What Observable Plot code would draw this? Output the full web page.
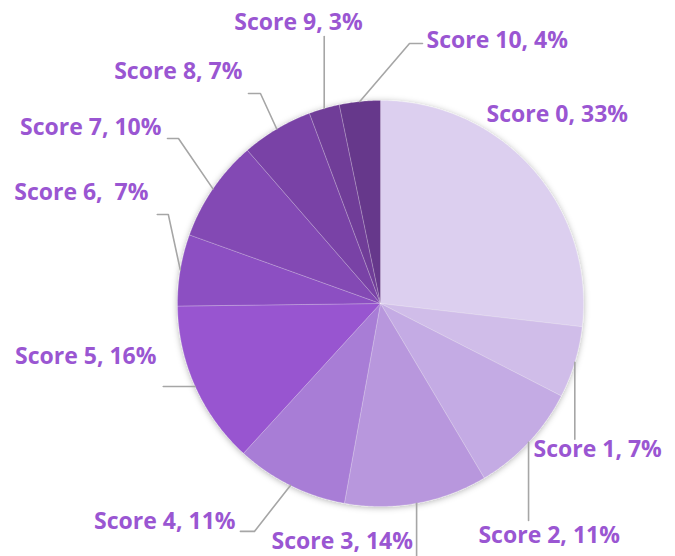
<!DOCTYPE html>
<html><head><meta charset="utf-8">
<script src="https://cdn.jsdelivr.net/npm/d3@7"></script>
<script src="https://cdn.jsdelivr.net/npm/@observablehq/plot@0.6"></script>
<style>html,body{margin:0;padding:0;background:#fff;}</style>
</head><body><div id="chart"></div>
<script>
// ---- data ----
const scores = ["Score 0","Score 1","Score 2","Score 3","Score 4","Score 5","Score 6","Score 7","Score 8","Score 9","Score 10"];
const percents = [33, 7, 11, 14, 11, 16, 7, 10, 7, 3, 4];
const labels = ["Score 0, 33%","Score 1, 7%","Score 2, 11%","Score 3, 14%","Score 4, 11%","Score 5, 16%","Score 6,  7%","Score 7, 10%","Score 8, 7%","Score 9, 3%","Score 10, 4%"];
const colors = ["#dccfef","#d0bde9","#c4abe4","#b897dd","#a87dd6","#9855d0","#8c4fc2","#8349b4","#7943a6","#703d98","#66378b"];

// ---- layout (pixels) ----
const W = 675, H = 556, CX = 380, CY = 303, R = 203;
// label placement relative to the slice's outer mid-point: anchor, label offset, leader path offsets
const labelLayout = [
  {anchor: "start",  dx: -45.5, dy: -46.9, path: []},
  {anchor: "start",  dx: -41.3, dy: 95.2,  path: [[0,0],[0,77]]},
  {anchor: "start",  dx: -50.1, dy: 101.1, path: [[0,0],[0,78]]},
  {anchor: "end",    dx: -3.6,  dy: 46.0,  path: [[0,0],[0,54]]},
  {anchor: "end",    dx: -54.9, dy: 43.1,  path: [[0,0],[-36,46],[-50,46]]},
  {anchor: "end",    dx: -38.8, dy: -23,   path: [[0,0],[-32,0]]},
  {anchor: "end",    dx: -31.8, dy: -69.5, path: [[0,0],[-12,-55.5],[-23,-55.5]]},
  {anchor: "end",    dx: -51.5, dy: -54.3, path: [[0,0],[-34.5,-50.3],[-45.5,-50.3]]},
  {anchor: "end",    dx: -34.3, dy: -50.5, path: [[0,0],[-16.3,-35.5],[-28.3,-35.5]]},
  {anchor: "middle", dx: -25.7, dy: -78.5, path: [[0,0],[0,-72]]},
  {anchor: "start",  dx: 66.7,  dy: -53.1, path: [[0,0],[49.7,-58.1],[62.7,-58.1]]}
];

const total = d3.sum(percents);
let acc = 0;
const slices = percents.map((v, i) => {
  const a0 = acc / total * 2 * Math.PI; acc += v;
  const a1 = acc / total * 2 * Math.PI;
  return {score: scores[i], label: labels[i], a0, a1, mid: (a0 + a1) / 2};
});

const polyPts = [];
slices.forEach(s => {
  polyPts.push({score: s.score, x: CX, y: CY});
  const n = Math.max(2, Math.ceil((s.a1 - s.a0) / (Math.PI / 360)));
  for (let k = 0; k <= n; k++) {
    const a = s.a0 + (s.a1 - s.a0) * k / n;
    polyPts.push({score: s.score, x: CX + R * Math.sin(a), y: CY - R * Math.cos(a)});
  }
  polyPts.push({score: s.score, x: CX, y: CY});
});

const leaderPts = [];
const labelPts = [];
slices.forEach((s, i) => {
  const ex = CX + R * Math.sin(s.mid), ey = CY - R * Math.cos(s.mid);
  const L = labelLayout[i];
  L.path.forEach(([dx, dy]) => leaderPts.push({score: s.score, x: ex + dx, y: ey + dy}));
  labelPts.push({label: s.label, anchor: L.anchor, x: ex + L.dx, y: ey + L.dy});
});

const textOpts = {x: "x", y: "y", text: "label", fill: "#9a56d2", fontSize: 23,
  fontWeight: 700, fontFamily: "'Open Sans', sans-serif", lineAnchor: "bottom"};

const chart = Plot.plot({
  width: W, height: H,
  margin: 0,
  x: {domain: [0, W], range: [0, W], axis: null},
  y: {domain: [0, H], range: [0, H], axis: null},
  color: {domain: scores, range: colors},
  style: {background: "#fff"},
  marks: [
    Plot.line(polyPts, {x: "x", y: "y", z: "score", fill: "score", stroke: "#ffffff", strokeOpacity: 0.35, strokeWidth: 0.6, curve: "linear"}),
    Plot.line(leaderPts, {x: "x", y: "y", z: "score", stroke: "#a6a6a6", strokeWidth: 1.6}),
    Plot.text(labelPts.filter(d => d.anchor === "start"), {...textOpts, textAnchor: "start"}),
    Plot.text(labelPts.filter(d => d.anchor === "end"), {...textOpts, textAnchor: "end"}),
    Plot.text(labelPts.filter(d => d.anchor === "middle"), {...textOpts, textAnchor: "middle"})
  ]
});

// soft shadow around the pie
const svg = d3.select(chart);
svg.insert("defs", ":first-child").html(
  '<filter id="pieShadow" x="-20%" y="-20%" width="140%" height="140%">' +
  '<feDropShadow dx="0" dy="1" stdDeviation="3" flood-color="#000" flood-opacity="0.3"/></filter>');
const lineGroups = chart.querySelectorAll('g[aria-label="line"]');
if (lineGroups.length) lineGroups[0].setAttribute("filter", "url(#pieShadow)");

document.getElementById("chart").appendChild(chart);
</script>
</body></html>
